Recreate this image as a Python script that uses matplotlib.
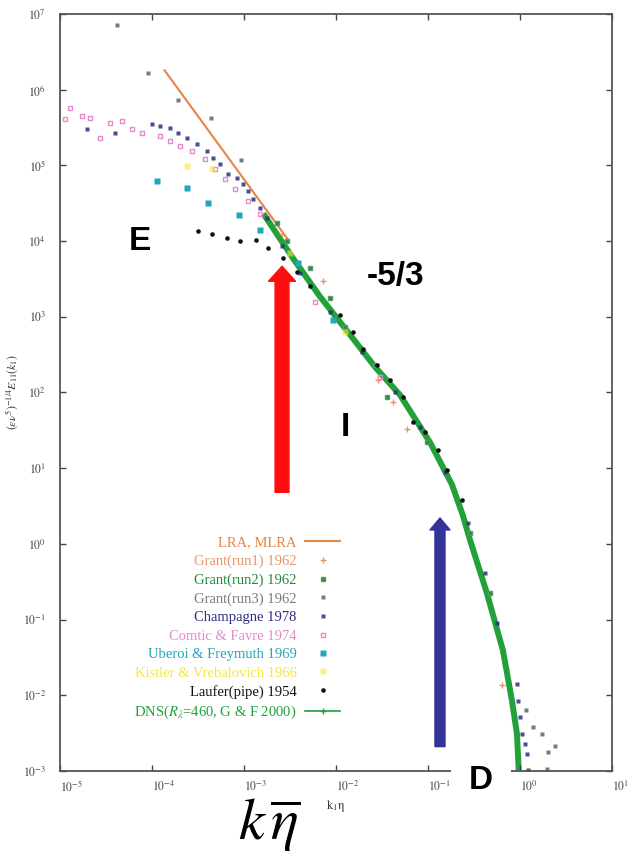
import matplotlib
matplotlib.use('Agg')
import matplotlib.pyplot as plt
from matplotlib.lines import Line2D
from matplotlib.ticker import NullLocator

plt.rcParams['font.family'] = ['Liberation Serif', 'DejaVu Serif']
plt.rcParams['mathtext.fontset'] = 'stix'

# LRA / MLRA -5/3 line
lra_k = [1.37e-4, 3.0e-3]
lra_E = [1.8e6, 1.05e4]

# Grant (run1) 1962
g1_k = [2.59e-3, 7.23e-3, 2.86e-2, 4.17e-2, 5.92e-2, 0.637]
g1_E = [1.24e4, 2.93e3, 147, 74.8, 32.7, 0.0135]

# Grant (run2) 1962
g2_k = [2.29e-3, 2.93e-3, 5.21e-3, 8.61e-3, 1.25e-2, 2.65e-2, 3.58e-2,
        9.75e-2, 0.286, 0.472]
g2_E = [1.73e4, 9.98e3, 4.37e3, 1.75e3, 741, 232, 87,
        22, 1.40, 0.224]

# Grant (run3) 1962
g3_k = [4.17e-5, 9.06e-5, 1.92e-4, 4.38e-4, 9.27e-4,
        1.16, 1.38, 1.73, 2.40, 2.01, 1.96]
g3_E = [7.14e6, 1.64e6, 7.21e5, 4.29e5, 1.19e5,
        6.46e-3, 3.84e-3, 3.10e-3, 2.15e-3, 1.79e-3, 1.06e-3]

# Champagne 1978
ch_k = [1.96e-5, 3.96e-5, 1.0e-4, 1.22e-4, 1.57e-4, 1.92e-4, 2.40e-4,
        3.08e-4, 3.96e-4, 4.60e-4, 5.48e-4, 6.70e-4, 8.39e-4, 9.75e-4,
        1.10e-3, 1.25e-3, 1.49e-3, 1.78e-3, 2.59e-3, 4.06e-3, 8.61e-3,
        1.92e-2, 4.38e-2, 8.18e-2, 0.153, 0.272, 0.417, 0.562,
        0.927, 0.951, 1.0, 1.05, 1.13, 1.19, 1.22]
ch_E = [3.06e5, 2.71e5, 3.57e5, 3.36e5, 3.16e5, 2.71e5, 2.33e5,
        1.94e5, 1.56e5, 1.26e5, 1.05e5, 7.73e4, 6.84e4, 5.70e4,
        4.60e4, 3.60e4, 2.74e4, 2.01e4, 8.55e3, 3.75e3, 1.17e3,
        345, 102, 34.8, 8.8, 1.91, 0.413, 0.0895,
        0.0143, 8.5e-3, 5.2e-3, 3.1e-3, 2.29e-3, 1.68e-3, 1.03e-3]

# Comte-Bellot & Favre 1974
cf_k = [1.13e-5, 1.29e-5, 1.73e-5, 2.12e-5, 2.72e-5, 3.49e-5, 4.72e-5,
        6.07e-5, 7.78e-5, 1.22e-4, 1.57e-4, 2.01e-4, 2.72e-4, 3.77e-4,
        4.84e-4, 6.21e-4, 7.98e-4, 1.10e-3, 1.49e-3, 5.92e-3, 3.01e-2]
cf_E = [4.16e5, 5.65e5, 4.56e5, 4.29e5, 2.33e5, 3.68e5, 3.91e5,
        3.06e5, 2.71e5, 2.47e5, 2.12e5, 1.82e5, 1.56e5, 1.22e5,
        9.0e4, 6.64e4, 4.89e4, 3.39e4, 2.28e4, 1.59e3, 161]

# Uberoi & Freymuth 1969
uf_k = [1.13e-4, 2.40e-4, 4.06e-4, 8.83e-4, 1.49e-3, 3.86e-3, 9.27e-3]
uf_E = [6.24e4, 5.04e4, 3.18e4, 2.21e4, 1.40e4, 5.09e3, 918]

# Kistler & Vrebalovich 1966
kv_k = [2.40e-4, 4.49e-4, 3.16e-3, 1.25e-2]
kv_E = [9.9e4, 9.0e4, 6.9e3, 636]

# Laufer (pipe) 1954
lf_k = [3.16e-4, 4.49e-4, 6.53e-4, 9.06e-4, 1.35e-3, 1.82e-3, 2.65e-3,
        3.77e-3, 5.21e-3, 1.10e-2, 1.53e-2, 1.96e-2, 2.79e-2, 3.86e-2,
        5.34e-2, 6.87e-2, 9.27e-2, 0.129, 0.161, 0.234]
lf_E = [1.35e4, 1.24e4, 1.09e4, 1.0e4, 1.03e4, 8.05e3, 5.93e3,
        3.86e3, 2.52e3, 1.07e3, 636, 378, 232, 147,
        87, 40.6, 29.9, 17.2, 9.35, 3.85]

# DNS (R_lambda=460, Gotoh & Fukayama 2000)
dns_k = [1.69e-3, 3.41e-3, 6.70e-3, 1.42e-2, 2.65e-2, 4.97e-2, 0.105,
         0.182, 0.240, 0.286, 0.437, 0.653, 0.818, 0.927, 0.975]
dns_E = [2.14e4, 5.93e3, 1.85e3, 581, 218, 92.7, 22,
         6.1, 2.36, 1.13, 0.224, 0.039, 8.5e-3, 3.1e-3, 8.6e-4]

x_ticks = [1e-5, 1e-4, 1e-3, 1e-2, 1e-1, 1e0, 1e1]
x_labels = [r'$10^{-5}$', r'$10^{-4}$', r'$10^{-3}$', r'$10^{-2}$',
            r'$10^{-1}$', r'$10^{0}$', r'$10^{1}$']
y_ticks = [1e-3, 1e-2, 1e-1, 1e0, 1e1, 1e2, 1e3, 1e4, 1e5, 1e6, 1e7]
y_labels = [r'$10^{-3}$', r'$10^{-2}$', r'$10^{-1}$', r'$10^{0}$',
            r'$10^{1}$', r'$10^{2}$', r'$10^{3}$', r'$10^{4}$',
            r'$10^{5}$', r'$10^{6}$', r'$10^{7}$']

c_lra = '#e8834a'
c_g1 = '#e8946a'
c_g2 = '#1f8a3c'
c_g3 = '#7a7a7a'
c_ch = '#2c2c80'
c_cf = '#e58acb'
c_uf = '#22a7b8'
c_kv = '#f2e640'
c_lf = '#111111'
c_dns = '#22a03a'

fig = plt.figure(figsize=(6.33, 8.58), dpi=100)
ax = fig.add_axes([0.0948, 0.1014, 0.8720, 0.8823])
ax.set_xscale('log')
ax.set_yscale('log')
ax.set_xlim(1e-5, 1e1)
ax.set_ylim(1e-3, 1e7)

ms = 3.2
h_lra, = ax.plot(lra_k, lra_E, '-', color=c_lra, lw=1.5, label='LRA, MLRA')
h_g1, = ax.plot(g1_k, g1_E, '+', color=c_g1, ms=4, mew=1, label='Grant(run1) 1962')
h_g2, = ax.plot(g2_k, g2_E, 's', color=c_g2, ms=ms, mec='#5a9a6a', label='Grant(run2) 1962')
h_g3, = ax.plot(g3_k, g3_E, 's', color=c_g3, ms=2.4, mec='none', label='Grant(run3) 1962')
h_ch, = ax.plot(ch_k, ch_E, 's', color=c_ch, ms=ms, mec='none', alpha=0.85,
                label='Champagne 1978')
h_cf, = ax.plot(cf_k, cf_E, 's', color=c_cf, ms=ms, mfc='none', mew=1,
                label='Comtic & Favre 1974')
h_uf, = ax.plot(uf_k, uf_E, 's', color=c_uf, ms=4, mec='none', label='Uberoi & Freymuth 1969')
h_kv, = ax.plot(kv_k, kv_E, 's', color=c_kv, ms=5, mec='none', alpha=0.6,
                label='Kistler & Vrebalovich 1966')
h_lf, = ax.plot(lf_k, lf_E, 'o', color=c_lf, ms=3.3, mec='none', label='Laufer(pipe) 1954')
ax.plot(dns_k, dns_E, '-', color=c_dns, lw=4.3, zorder=1.5, solid_joinstyle='round')
h_dns = Line2D([], [], color=c_dns, lw=1.2, marker='+', ms=5,
               label=r'DNS($R_\lambda$=460, G & F 2000)')

handles = [h_lra, h_g1, h_g2, h_g3, h_ch, h_cf, h_uf, h_kv, h_lf, h_dns]
leg = ax.legend(handles=handles, loc='upper right', bbox_to_anchor=(0.508, 0.31),
                frameon=False, markerfirst=False, fontsize=10.5,
                labelspacing=0.36, handlelength=2.4, handletextpad=0.6,
                borderpad=0, borderaxespad=0,
                labelcolor=[c_lra, c_g1, c_g2, c_g3, c_ch, c_cf, c_uf, c_kv, c_lf, c_dns])

ax.set_xticks(x_ticks)
ax.set_xticklabels(x_labels, ha='left')
ax.set_yticks(y_ticks)
ax.set_yticklabels(y_labels)
ax.xaxis.set_minor_locator(NullLocator())
ax.yaxis.set_minor_locator(NullLocator())
ax.tick_params(direction='in', length=4, width=1, top=True, right=True,
               labelsize=8.5, colors='#444444')
ax.tick_params(axis='y', pad=10)
ax.tick_params(axis='x', pad=6)
for s in ax.spines.values():
    s.set_color('#555555')
    s.set_linewidth(1.3)

ax.set_xlabel(r'$\mathrm{k_1\eta}$', fontsize=9, labelpad=3, color='#333333')
ax.set_ylabel(r'$(\epsilon\nu^5)^{-1/4}E_{11}(k_1)$', fontsize=8.5, labelpad=2,
              color='#333333')

# arrows
ax.annotate('', xy=(2.59e-3, 4650), xytext=(2.59e-3, 4.8),
            arrowprops=dict(arrowstyle='simple,head_length=1.08,head_width=1.94,tail_width=1.0',
                            mutation_scale=10, color='#ff0d0d', shrinkA=0, shrinkB=0))
ax.annotate('', xy=(0.135, 2.2), xytext=(0.135, 2.1e-3),
            arrowprops=dict(arrowstyle='simple,head_length=0.86,head_width=1.44,tail_width=0.72',
                            mutation_scale=10, color='#333399', shrinkA=0, shrinkB=0))

# region labels
bold = dict(family=['Liberation Sans', 'DejaVu Sans'], fontweight='bold', fontsize=24,
            ha='center', va='center', color='black')
ax.text(7.4e-5, 1.0e4, 'E', **bold)
ax.text(4.4e-2, 3.4e3, '-5/3', **bold)
ax.text(1.25e-2, 35, 'I', **bold)
ax.text(0.377, 7.4e-4, 'D', clip_on=False, zorder=5,
        bbox=dict(facecolor='white', edgecolor='none', boxstyle='square,pad=0.55'), **bold)

fig.text(0.425, 0.038, r'$k\,\overline{\eta}$', fontsize=42, ha='center', va='center')

fig.savefig('out.png', dpi=100)
